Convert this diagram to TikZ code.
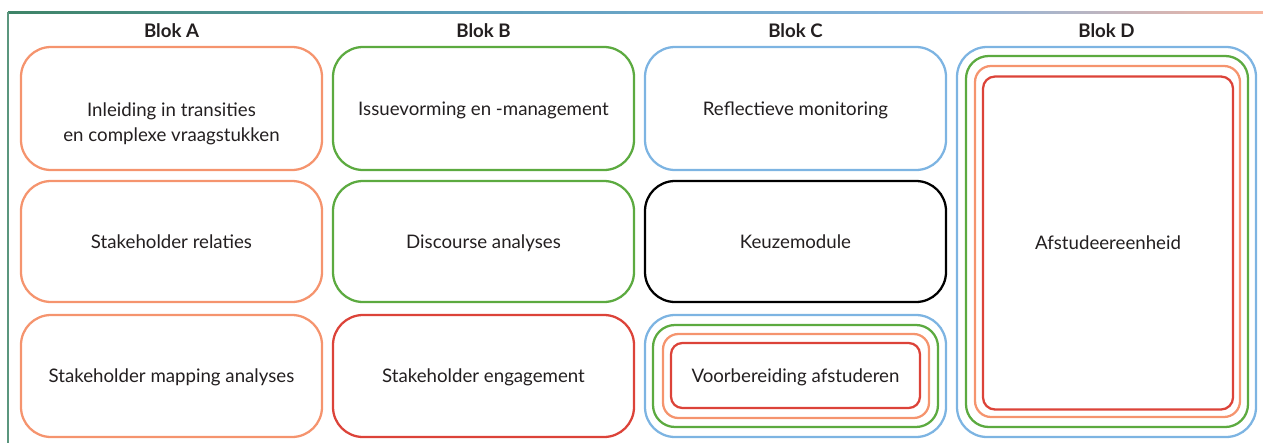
\documentclass[tikz,border=0pt]{standalone}
\usepackage{fontspec}
\setmainfont{Lato}
\definecolor{cSalmon}{HTML}{F5946E}
\definecolor{cGreen}{HTML}{5CAA40}
\definecolor{cBlue}{HTML}{7DB4E2}
\definecolor{cRed}{HTML}{DC4339}
\definecolor{cText}{HTML}{231F20}
\definecolor{fGreen}{HTML}{3E8467}
\definecolor{fTeal}{HTML}{5A9CB8}
\definecolor{fBlue}{HTML}{86B4DE}
\definecolor{fSalmon}{HTML}{F7B6A0}
\tikzset{
  box/.style={draw=#1, line width=1.7pt, rounded corners=22.5pt, inner sep=0pt,
    minimum width=225.75pt, minimum height=91.5pt,
    text height=11.5pt, text depth=1.5pt,
    text=cText, font=\fontsize{14}{18.75}\selectfont},
  head/.style={text=cText, font=\fontsize{14}{17}\selectfont\bfseries, inner sep=0pt},
  inbox/.style={draw=#1, line width=1.7pt, inner sep=0pt, text=cText,
    text height=11.5pt, text depth=1.5pt,
    font=\fontsize{14}{18.75}\selectfont},
  lbl/.style={text=cText, font=\fontsize{14}{18.75}\selectfont, align=center, inner sep=0pt}
}
\begin{document}
\begin{tikzpicture}[x=0.75pt,y=-0.75pt]
\useasboundingbox (0,0) rectangle (1263,443);
% frame
\shade[left color=fGreen, right color=fTeal] (8,11.7) rectangle (450,13.3);
\shade[left color=fTeal, right color=fBlue] (449,11.7) rectangle (950,13.3);
\shade[left color=fBlue, right color=fSalmon] (949,11.7) rectangle (1263,13.3);
\fill[fGreen!85!white] (7.2,11.7) rectangle (8.8,443);
% headers
\node[head] (hA) at (171.5,31) {Blok A};
\node[head] (hB) at (483.5,31) {Blok B};
\node[head] (hC) at (795.5,31) {Blok C};
\node[head] (hD) at (1106.5,31) {Blok D};
% Blok A
\node[box=cSalmon, minimum height=92.25pt] (a1) at (171.5,108.5) {};
\node[lbl] (a1t) at (171.5,123.5) {Inleiding in transities\\en complexe vraagstukken};
\node[box=cSalmon, minimum height=90.75pt] (a2) at (171.5,241.5) {Stakeholder relaties};
\node[box=cSalmon] (a3) at (171.5,376) {Stakeholder mapping analyses};
% Blok B
\node[box=cGreen, minimum height=92.25pt] (b1) at (483.5,108.5) {Issuevorming en -management};
\node[box=cGreen, minimum height=90.75pt] (b2) at (483.5,241.5) {Discourse analyses};
\node[box=cRed] (b3) at (483.5,376) {Stakeholder engagement};
% Blok C
\node[box=cBlue, minimum height=92.25pt] (c1) at (795.5,108.5) {Reflectieve monitoring};
\node[box=black, minimum height=90.75pt] (c2) at (795.5,241.5) {Keuzemodule};
\node[box=cBlue] (c3) at (795.5,376) {};
\node[inbox=cGreen, minimum width=213.75pt, minimum height=76.5pt, rounded corners=16.5pt] (c3g) at (795.5,376) {};
\node[inbox=cSalmon, minimum width=199.5pt, minimum height=63pt, rounded corners=11.5pt] (c3s) at (796,376) {};
\node[inbox=cRed, minimum width=186.75pt, minimum height=48.75pt, rounded corners=8.5pt] (c3r) at (795.5,375.5) {Voorbereiding afstuderen};
% Blok D
\node[inbox=cBlue, minimum width=224.25pt, minimum height=292.5pt, rounded corners=22.5pt] (d) at (1106.5,242) {};
\node[inbox=cGreen, minimum width=211.5pt, minimum height=278.25pt, rounded corners=17pt] (dg) at (1107,241.5) {};
\node[inbox=cSalmon, minimum width=198.75pt, minimum height=263.25pt, rounded corners=12pt] (ds) at (1107.5,241.5) {};
\node[inbox=cRed, minimum width=187.5pt, minimum height=249.75pt, rounded corners=9pt] (dr) at (1108,243) {Afstudeereenheid};
\end{tikzpicture}
\end{document}
